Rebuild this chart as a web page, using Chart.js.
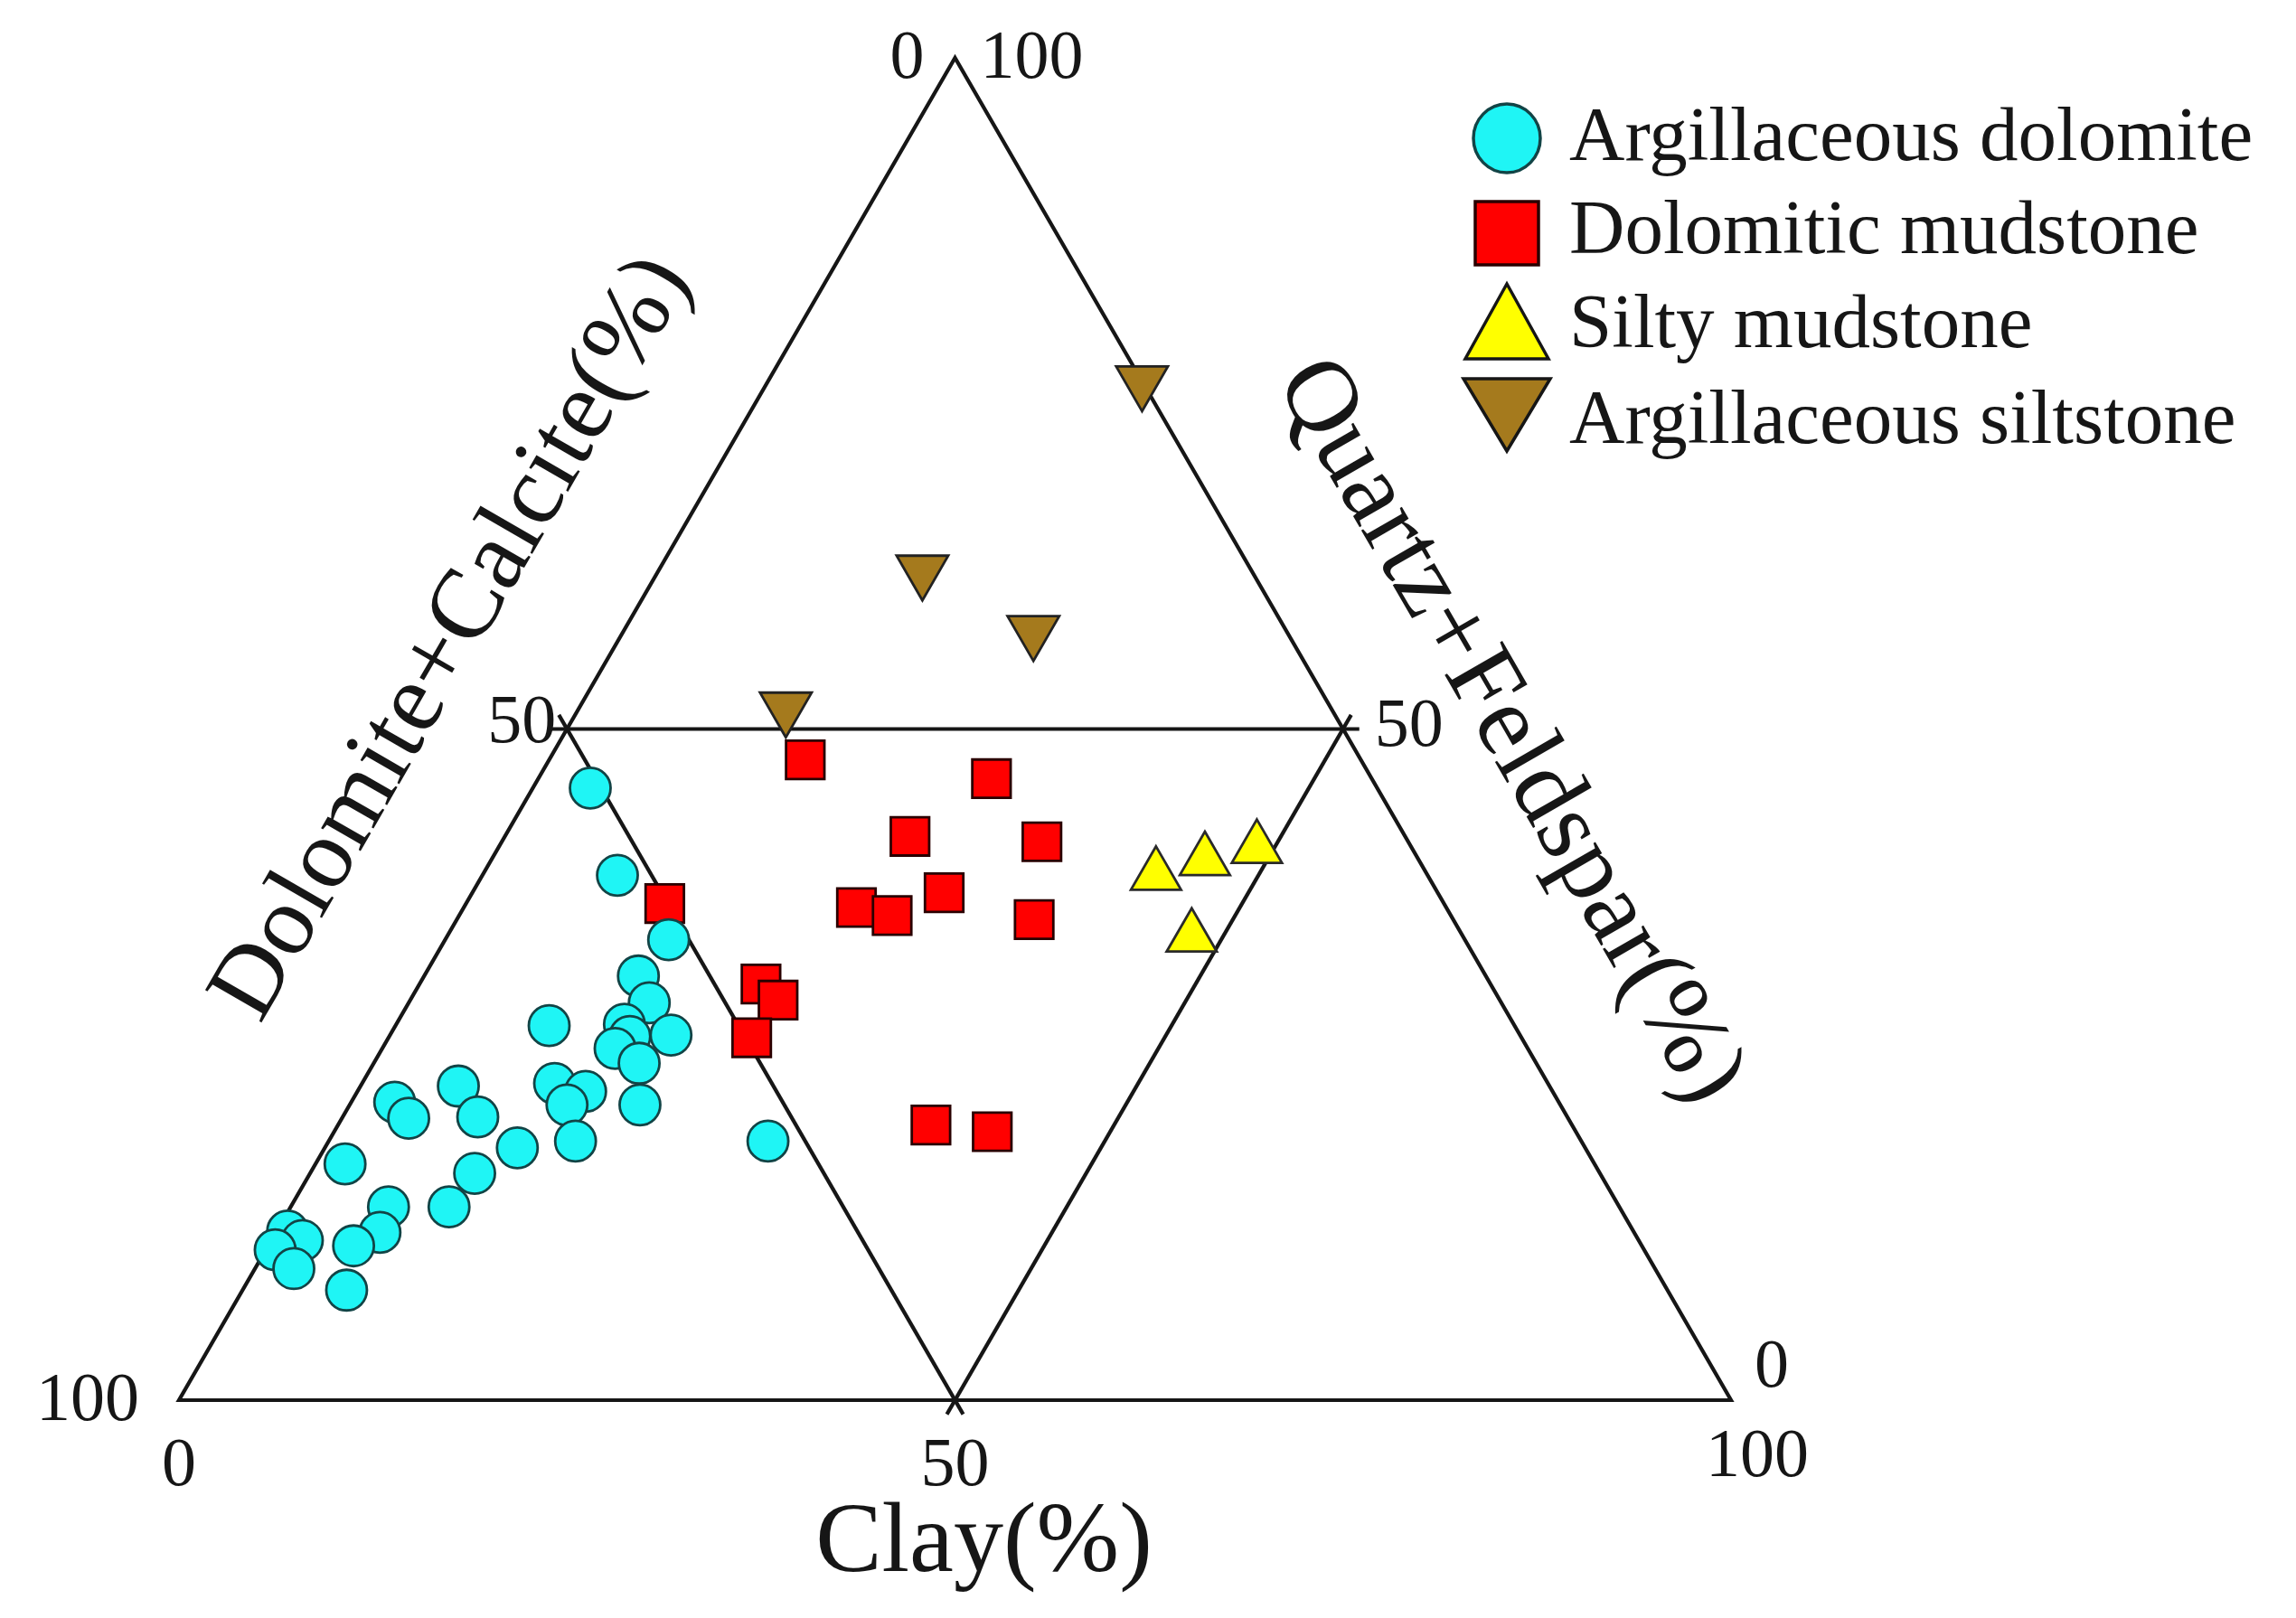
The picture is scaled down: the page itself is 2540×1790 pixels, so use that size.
<!DOCTYPE html>
<html>
<head>
<meta charset="utf-8">
<title>Ternary diagram</title>
<script src="https://cdn.jsdelivr.net/npm/chart.js@4.4.1/dist/chart.umd.min.js"></script>
<style>
    html, body { margin: 0; padding: 0; background: #ffffff; }
    #wrap { width: 2540px; height: 1790px; }
</style>
</head>
<body>
<div id="wrap"><canvas id="chartCanvas" width="2540" height="1790"></canvas></div>
<script>
// Compositions in %, Dolomite+Calcite = 100 - clay - quartz
const seriesNames = ['Argillaceous dolomite', 'Dolomitic mudstone', 'Silty mudstone', 'Argillaceous siltstone'];

const argDolomiteClay   = [3.7, 8.7, 14.4, 13.8, 15.5, 14.7, 15.5, 18.1, 15.0, 17.1, 18.7, 9.9, 12.4, 14.7, 14.0, 15.9, 12.4,
                           10.6, 10.2, 2.8, 4.3, 6.3, 8.7, 1.9, 6.3, 6.7, 5.5, 6.7, 0.7, 2.0, 0.6, 2.5, 28.3];
const argDolomiteQuartz = [45.6, 39.1, 34.3, 31.6, 29.6, 28.0, 27.1, 27.2, 26.2, 25.1, 22.0, 27.9, 23.6, 23.0, 22.0, 19.3, 18.8,
                           16.9, 14.4, 22.2, 21.0, 23.4, 21.1, 17.6, 14.4, 12.5, 11.5, 8.2, 12.6, 11.9, 11.2, 9.8, 19.3];

const dolMudstoneClay   = [16.5, 29.2, 26.1, 34.8, 30.4, 25.3, 27.9, 37.2, 12.8, 22.0, 23.7, 23.4, 38.2, 42.4];
const dolMudstoneQuartz = [47.7, 46.3, 42.0, 41.6, 37.8, 36.7, 36.1, 35.8, 37.0, 31.0, 29.8, 27.0, 20.5, 20.0];

const siltyMudstoneClay   = [43.4, 46.0, 48.9, 48.0];
const siltyMudstoneQuartz = [39.1, 40.2, 41.1, 34.5];

const argSiltstoneClay   = [24.1, 17.0, 26.4, 13.3];
const argSiltstoneQuartz = [75.9, 61.8, 57.3, 51.6];

const clayTicks = ['0', '50', '100'];
const carbonateTicks = ['100', '50', '0'];
const quartzTicks = ['0', '50', '100'];

const H = Math.sqrt(3) / 2;

function toXY(clay, quartz) {
    return clay.map((c, i) => ({ x: c + quartz[i] / 2, y: quartz[i] * H }));
}

const FONT = '"Liberation Serif", "Times New Roman", serif';
const INK = '#161616';

const ternaryFrame = {
    id: 'ternaryFrame',
    beforeDatasetsDraw(chart) {
        const ctx = chart.ctx;
        const sx = chart.scales.x, sy = chart.scales.y;
        const pt = (clay, q) => [sx.getPixelForValue(clay + q / 2), sy.getPixelForValue(q * H)];
        const bl = pt(0, 0), br = pt(100, 0), top = pt(0, 100);
        const lm = pt(0, 50), rm = pt(50, 50), bm = pt(50, 0);

        ctx.save();
        ctx.strokeStyle = INK;
        ctx.lineWidth = 4.2;
        ctx.lineJoin = 'miter';
        ctx.beginPath();
        ctx.moveTo(bl[0], bl[1]);
        ctx.lineTo(br[0], br[1]);
        ctx.lineTo(top[0], top[1]);
        ctx.closePath();
        ctx.stroke();

        // inner triangle, slightly overshooting the frame
        const ext = 18;
        const seg = (a, b) => {
            const dx = b[0] - a[0], dy = b[1] - a[1];
            const len = Math.hypot(dx, dy);
            const ux = dx / len, uy = dy / len;
            ctx.beginPath();
            ctx.moveTo(a[0] - ux * ext, a[1] - uy * ext);
            ctx.lineTo(b[0] + ux * ext, b[1] + uy * ext);
            ctx.stroke();
        };
        seg(lm, rm);
        seg(lm, bm);
        seg(rm, bm);

        // tick labels
        ctx.fillStyle = INK;
        ctx.font = '76px ' + FONT;
        ctx.textBaseline = 'middle';
        ctx.textAlign = 'center';
        ctx.fillText(carbonateTicks[2], top[0] - 53, top[1] + 2);
        ctx.fillText(quartzTicks[2], top[0] + 85, top[1] + 2);
        ctx.fillText(clayTicks[0], bl[0], bl[1] + 74);
        ctx.fillText(clayTicks[1], bm[0], bm[1] + 74);
        ctx.fillText(clayTicks[2], br[0] + 29, br[1] + 64);
        ctx.fillText(quartzTicks[0], br[0] + 45, br[1] - 35);
        ctx.textAlign = 'right';
        ctx.fillText(carbonateTicks[0], bl[0] - 44, bl[1] + 2);
        ctx.fillText(carbonateTicks[1], lm[0] - 12, lm[1] - 5);
        ctx.textAlign = 'left';
        ctx.fillText(quartzTicks[1], rm[0] + 35, rm[1] - 1);

        // axis titles
        ctx.font = '110px ' + FONT;
        ctx.textAlign = 'center';
        ctx.fillText('Clay(%)', bm[0] + 32, bm[1] + 160);

        ctx.save();
        ctx.translate(lm[0] - 126, lm[1] - 100);
        ctx.rotate(-Math.PI / 3);
        ctx.fillText('Dolomite+Calcite(%)', 0, 0);
        ctx.restore();

        ctx.save();
        ctx.translate(rm[0] + 183, rm[1] + 3);
        ctx.rotate(Math.PI / 3);
        ctx.font = '113px ' + FONT;
        ctx.fillText('Quartz+Feldspar(%)', 0, 0);
        ctx.restore();

        ctx.restore();
    },
    afterDraw(chart) {
        const ctx = chart.ctx;
        const sx = 1667;
        const rows = [153, 258, 356, 459];
        const baselines = [177, 280, 384, 490];
        ctx.save();
        ctx.lineWidth = 3.5;

        ctx.fillStyle = '#1ff5f5';
        ctx.strokeStyle = '#124446';
        ctx.beginPath();
        ctx.ellipse(sx, rows[0], 37, 38, 0, 0, Math.PI * 2);
        ctx.fill();
        ctx.stroke();

        ctx.fillStyle = '#ff0000';
        ctx.strokeStyle = '#2a0000';
        ctx.beginPath();
        ctx.rect(sx - 35, rows[1] - 35, 70, 70);
        ctx.fill();
        ctx.stroke();

        ctx.fillStyle = '#ffff00';
        ctx.strokeStyle = INK;
        ctx.beginPath();
        ctx.moveTo(sx, rows[2] - 42);
        ctx.lineTo(sx + 46, rows[2] + 41);
        ctx.lineTo(sx - 46, rows[2] + 41);
        ctx.closePath();
        ctx.fill();
        ctx.stroke();

        ctx.fillStyle = '#a57a1d';
        ctx.beginPath();
        ctx.moveTo(sx - 48, rows[3] - 40);
        ctx.lineTo(sx + 48, rows[3] - 40);
        ctx.lineTo(sx, rows[3] + 40);
        ctx.closePath();
        ctx.fill();
        ctx.stroke();

        ctx.fillStyle = INK;
        ctx.font = '85px ' + FONT;
        ctx.textAlign = 'left';
        ctx.textBaseline = 'alphabetic';
        seriesNames.forEach((name, i) => ctx.fillText(name, 1736, baselines[i]));
        ctx.restore();
    }
};

const canvas = document.getElementById('chartCanvas');
const ctx = canvas.getContext('2d');

new Chart(ctx, {
    type: 'scatter',
    data: {
        datasets: [
            {
                label: seriesNames[0],
                data: toXY(argDolomiteClay, argDolomiteQuartz),
                pointStyle: 'circle',
                pointRadius: 22.5,
                backgroundColor: '#1ff5f5',
                borderColor: '#124446',
                borderWidth: 2.8,
                clip: false
            },
            {
                label: seriesNames[1],
                data: toXY(dolMudstoneClay, dolMudstoneQuartz),
                pointStyle: 'rect',
                pointRadius: 30,
                backgroundColor: '#ff0000',
                borderColor: '#2a0000',
                borderWidth: 2.8,
                clip: false
            },
            {
                label: seriesNames[2],
                data: toXY(siltyMudstoneClay, siltyMudstoneQuartz),
                pointStyle: 'triangle',
                pointRadius: 32,
                backgroundColor: '#ffff00',
                borderColor: '#2a2a2a',
                borderWidth: 2.8,
                clip: false
            },
            {
                label: seriesNames[3],
                data: toXY(argSiltstoneClay, argSiltstoneQuartz),
                pointStyle: 'triangle',
                rotation: 180,
                pointRadius: 33,
                backgroundColor: '#a57a1d',
                borderColor: '#222222',
                borderWidth: 2.8,
                clip: false
            }
        ]
    },
    options: {
        responsive: false,
        animation: false,
        devicePixelRatio: 1,
        layout: { padding: { left: 198, right: 625, top: 64, bottom: 241 } },
        scales: {
            x: { type: 'linear', min: 0, max: 100, display: false },
            y: { type: 'linear', min: 0, max: 100 * H, display: false }
        },
        plugins: {
            legend: { display: false },
            tooltip: { enabled: false }
        }
    },
    plugins: [ternaryFrame]
});
</script>
</body>
</html>
